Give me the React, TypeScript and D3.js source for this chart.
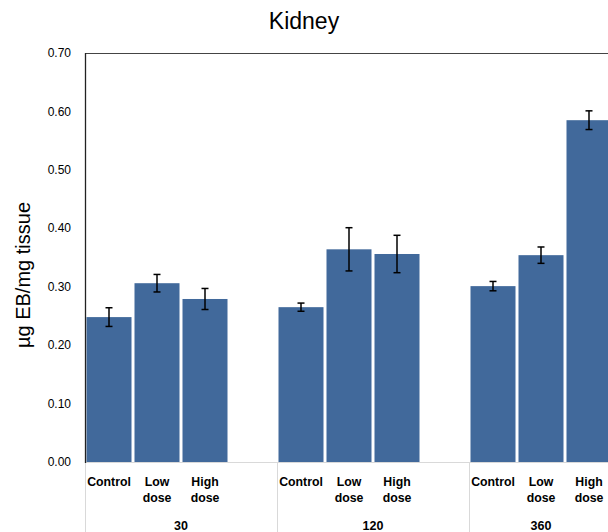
import React from "react";
import * as d3 from "d3";

const timeGroups = ["30", "120", "360"];
const doseLabels = ["Control", "Low dose", "High dose"];
const means30 = [0.248, 0.306, 0.279];
const errs30 = [0.016, 0.015, 0.018];
const means120 = [0.265, 0.364, 0.356];
const errs120 = [0.007, 0.037, 0.032];
const means360 = [0.301, 0.354, 0.585];
const errs360 = [0.008, 0.014, 0.016];
const yTicks = [0, 0.1, 0.2, 0.3, 0.4, 0.5, 0.6, 0.7];

const W = 608;
const H = 532;
const left = 85;
const right = 613;
const top = 53;
const bottom = 462;
const barColor = "#41699b";
const font = "'Liberation Sans', Arial, sans-serif";

export default function App() {
  const means = [means30, means120, means360];
  const errs = [errs30, errs120, errs360];

  const slots: string[] = [];
  timeGroups.forEach((g, gi) => {
    doseLabels.forEach((d) => slots.push(g + "|" + d));
    if (gi < timeGroups.length - 1) slots.push(g + "|blank");
  });

  const x = d3
    .scaleBand<string>()
    .domain(slots)
    .range([left, right])
    .paddingInner(0.0625)
    .paddingOuter(0.03125);
  const y = d3.scaleLinear().domain([0, 0.7]).range([bottom, top]);
  const step = x.step();
  const fmt = d3.format(".2f");

  const bars: { key: string; x: number; w: number; v: number; e: number }[] = [];
  timeGroups.forEach((g, gi) => {
    doseLabels.forEach((d, di) => {
      const k = g + "|" + d;
      bars.push({ key: k, x: x(k)!, w: x.bandwidth(), v: means[gi][di], e: errs[gi][di] });
    });
  });

  const groupStart = (gi: number) => x(timeGroups[gi] + "|" + doseLabels[0])! - x.paddingOuter() * step;
  const groupEnd = (gi: number) => (gi < timeGroups.length - 1 ? groupStart(gi) + 4 * step : right);

  return (
    <svg width={W} height={H} style={{ position: "absolute", left: 0, top: 0, display: "block", background: "#fff" }}>
      <text x={304} y={29} textAnchor="middle" fontFamily={font} fontSize={23} fill="#000">
        Kidney
      </text>
      <text transform={`translate(30,275) rotate(-90)`} textAnchor="middle" fontFamily={font} fontSize={20} fill="#000">
        µg EB/mg tissue
      </text>
      {yTicks.map((t) => (
        <text key={t} x={71} y={y(t)} dy="0.35em" textAnchor="end" fontFamily={font} fontSize={12} fill="#000">
          {fmt(t)}
        </text>
      ))}
      <line x1={left} x2={right} y1={top + 0.5} y2={top + 0.5} stroke="#444" strokeWidth={1.2} />
      <line x1={left} x2={right} y1={bottom + 0.5} y2={bottom + 0.5} stroke="#d9d9d9" strokeWidth={1} />
      {timeGroups.map((g, gi) => (
        <line
          key={"sep" + g}
          x1={groupStart(gi) + 0.5}
          x2={groupStart(gi) + 0.5}
          y1={bottom}
          y2={H}
          stroke="#d9d9d9"
          strokeWidth={1}
        />
      ))}
      {bars.map((b) => (
        <rect key={b.key} x={b.x} y={y(b.v)} width={b.w} height={y(0) - y(b.v)} fill={barColor} />
      ))}
      {bars.map((b) => {
        const cx = b.x + b.w / 2;
        return (
          <g key={"e" + b.key} stroke="#000" strokeWidth={1.5}>
            <line x1={cx} x2={cx} y1={y(b.v + b.e)} y2={y(b.v - b.e)} />
            <line x1={cx - 3.5} x2={cx + 3.5} y1={y(b.v + b.e)} y2={y(b.v + b.e)} />
            <line x1={cx - 3.5} x2={cx + 3.5} y1={y(b.v - b.e)} y2={y(b.v - b.e)} />
          </g>
        );
      })}
      <line x1={left + 0.5} x2={left + 0.5} y1={top} y2={bottom + 1} stroke="#222" strokeWidth={1.3} />
      {bars.map((b) => {
        const label = b.key.split("|")[1];
        const cx = b.x + b.w / 2;
        const parts = label.split(" ");
        return (
          <text
            key={"l" + b.key}
            x={cx}
            y={485.5}
            textAnchor="middle"
            fontFamily={font}
            fontSize={12.3}
            fontWeight="bold"
            fill="#000"
          >
            {parts.map((p, i) => (
              <tspan key={i} x={cx} dy={i === 0 ? 0 : 16.6}>
                {p}
              </tspan>
            ))}
          </text>
        );
      })}
      {timeGroups.map((g, gi) => {
        const s = groupStart(gi);
        const e = groupEnd(gi);
        return (
          <text
            key={"g" + g}
            x={(s + e) / 2}
            y={530}
            textAnchor="middle"
            fontFamily={font}
            fontSize={12.5}
            fontWeight="bold"
            fill="#000"
          >
            {g}
          </text>
        );
      })}
    </svg>
  );
}
